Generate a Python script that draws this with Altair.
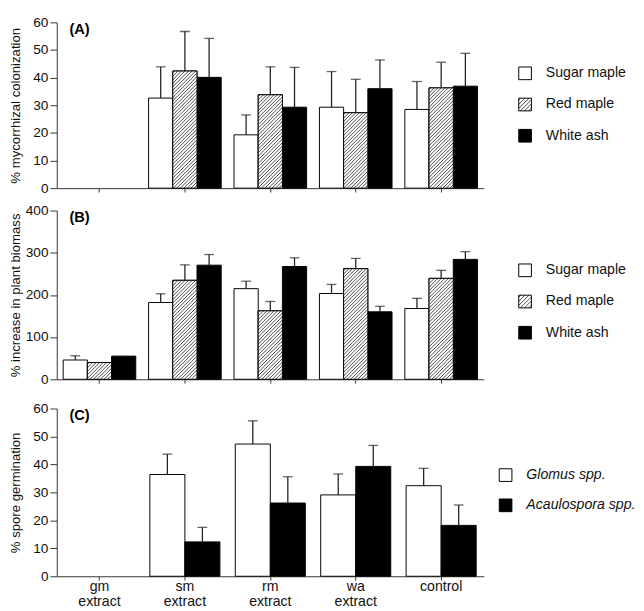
import json
import altair as alt

# ---------------- data ----------------
treatments = ["gm extract", "sm extract", "rm extract", "wa extract", "control"]
trees = ["Sugar maple", "Red maple", "White ash"]
fungi = ["Glomus spp.", "Acaulospora spp."]

# (A) % mycorrhizal colonization: bar means and top of error bars
col_sugar = [None, 32.6, 19.3, 29.3, 28.5]
col_sugar_up = [None, 43.9, 26.5, 42.2, 38.6]
col_red = [None, 42.4, 33.8, 27.3, 36.3]
col_red_up = [None, 56.7, 43.9, 39.4, 45.6]
col_ash = [None, 40.1, 29.3, 36.0, 36.9]
col_ash_up = [None, 54.2, 43.7, 46.4, 48.8]

# (B) % increase in plant biomass
bio_sugar = [45.7, 182.0, 214.9, 203.4, 167.8]
bio_sugar_up = [55.7, 202.7, 232.5, 224.9, 192.0]
bio_red = [39.7, 234.7, 162.3, 262.2, 239.3]
bio_red_up = [None, 271.3, 184.5, 286.6, 258.3]
bio_ash = [54.9, 270.6, 267.4, 160.0, 284.3]
bio_ash_up = [None, 295.8, 288.0, 173.0, 302.6]

# (C) % spore germination
germ_glomus = [None, 36.4, 47.3, 29.1, 32.4]
germ_glomus_up = [None, 43.7, 55.6, 36.6, 38.6]
germ_acaulo = [None, 12.3, 26.2, 39.3, 18.2]
germ_acaulo_up = [None, 17.5, 35.6, 46.8, 25.5]

# ---------------- styling helpers ----------------
FONT = "Liberation Sans, Arial, Helvetica, sans-serif"
W = 438
HATCH_FG = "#4a4a4a"
HATCH_BG = "#ffffff"


def hatch_stops(total, period, half=1.0):
    stops = [{"offset": 0.0, "color": HATCH_BG}]
    k = period / 2.0
    while k < total:
        a = max((k - half) / total, 0.0)
        c = k / total
        b = min((k + half) / total, 1.0)
        stops.append({"offset": round(a, 5), "color": HATCH_BG})
        stops.append({"offset": round(c, 5), "color": HATCH_FG})
        stops.append({"offset": round(b, 5), "color": HATCH_BG})
        k += period
    stops.append({"offset": 1.0, "color": HATCH_BG})
    return stops


def hatch_fill(w, h, period=3.6):
    # 45-degree "////" stripes inside a w x h box (gradient in bounding-box units)
    r = h / w
    m = (1 + r) / (1 + r * r)
    return {"gradient": "linear", "x1": 0, "y1": 0,
            "x2": round(m, 5), "y2": round(m * r, 5),
            "stops": hatch_stops(w + h, period)}


legend_hatch_expr = json.dumps(hatch_fill(13, 13, period=4.2))


def records(series, values, uppers):
    recs = []
    for s, vals, ups in zip(series, values, uppers):
        for t, v, u in zip(treatments, vals, ups):
            if v is None:
                continue
            recs.append({"treatment": t, "series": s, "value": v, "upper": u})
    return recs


def panel(recs, series, colors, ymax, ystep, height, ytitle, letter, pad_inner,
          legend_x, legend_y, row_pad, italic=False, show_labels=False, hatch_series=None):
    bar_w = W / len(treatments) * (1 - pad_inner) / len(series)
    xs = alt.Scale(domain=treatments, paddingInner=pad_inner, paddingOuter=pad_inner / 2)
    xaxis = alt.Axis(title=None, labels=show_labels, ticks=True, tickSize=4, labelAngle=0,
                     labelExpr="split(datum.label, ' ')", labelFontSize=14.5,
                     labelLineHeight=15.5, labelPadding=0, labelColor="#111")
    x = alt.X("treatment:N", scale=xs, axis=xaxis, sort=treatments)
    xo = alt.XOffset("series:N", scale=alt.Scale(domain=series, paddingInner=0, paddingOuter=0),
                     sort=series)
    ys = alt.Scale(domain=[0, ymax], nice=False, zero=True)
    yaxis = alt.Axis(values=list(range(0, ymax + 1, ystep)), title=ytitle, titleX=-35,
                     titleY=height / 2, titleAngle=-90, titleBaseline="bottom", titleAlign="center",
                     tickSize=7, labelPadding=2, labelFontSize=14, titleFontSize=13.5,
                     titleFontWeight="normal", grid=False)
    y = alt.Y("value:Q", scale=ys, axis=yaxis, stack=None)

    rng = []
    for c in colors:
        rng.append(alt.ExprRef(legend_hatch_expr) if c == "hatch" else c)

    legend = alt.Legend(orient="none", legendX=legend_x, legendY=legend_y, title=None,
                        symbolType="square", symbolSize=169, symbolStrokeColor="black",
                        symbolStrokeWidth=1, symbolOpacity=1, labelFontSize=14.5, labelOffset=14,
                        rowPadding=row_pad, padding=0, labelFont=FONT, labelColor="#111",
                        labelFontStyle="italic" if italic else "normal", labelLimit=200)

    bars = alt.Chart(alt.Data(values=recs)).mark_bar(stroke="black", strokeWidth=1).encode(
        x=x, xOffset=xo, y=y,
        color=alt.Color("series:N", scale=alt.Scale(domain=series, range=rng), legend=legend),
    )
    layers = [bars]

    if hatch_series is not None:
        hrecs = []
        for r in recs:
            if r["series"] == hatch_series:
                h = r["value"] * height / ymax
                rr = dict(r)
                rr["grad"] = hatch_fill(bar_w, h)
                hrecs.append(rr)
        hatch = alt.Chart(alt.Data(values=hrecs)).mark_bar(stroke="black", strokeWidth=1).encode(
            x=x, xOffset=xo, y=y,
            fill=alt.Fill(field="grad", type="nominal", scale=None),
        )
        layers.append(hatch)

    erecs = [r for r in recs if r["upper"] is not None]
    edata = alt.Data(values=erecs)
    rules = alt.Chart(edata).mark_rule(color="#222", strokeWidth=1.3).encode(
        x=x, xOffset=xo, y=y, y2="upper:Q")
    caps = alt.Chart(edata).mark_tick(color="#222", thickness=1.3, size=10).encode(
        x=x, xOffset=xo, y=alt.Y("upper:Q", scale=ys, axis=yaxis))
    layers += [rules, caps]

    return alt.layer(*layers).properties(
        width=W, height=height,
        title=alt.TitleParams(letter, anchor="start", frame="group", orient="top", offset=0,
                              dx=13, dy=22, fontSize=15, fontWeight="bold", font=FONT,
                              color="black"),
    )


pa = panel(records(trees, [col_sugar, col_red, col_ash], [col_sugar_up, col_red_up, col_ash_up]),
           trees, ["white", "hatch", "black"], 60, 10, 170, "% mycorrhizal colonization", "(A)",
           0.15, 473, 45, 14, hatch_series="Red maple")
pb = panel(records(trees, [bio_sugar, bio_red, bio_ash], [bio_sugar_up, bio_red_up, bio_ash_up]),
           trees, ["white", "hatch", "black"], 400, 100, 173, "% increase in plant biomass", "(B)",
           0.15, 473, 54, 14, hatch_series="Red maple")
pc = panel(records(fungi, [germ_glomus, germ_acaulo], [germ_glomus_up, germ_acaulo_up]),
           fungi, ["white", "black"], 60, 10, 172, "% spore germination", "(C)",
           0.18, 453, 61, 13, italic=True, show_labels=True)

res = dict(x="independent", xOffset="independent", y="independent", color="independent",
           fill="independent")
top = alt.vconcat(pa, pb, spacing=9).resolve_scale(**res).resolve_legend(color="independent")
chart = (
    alt.vconcat(top, pc, spacing=16)
    .resolve_scale(**res)
    .resolve_legend(color="independent")
    .properties(padding={"left": 0, "top": 0, "right": 0, "bottom": 0})
    .configure(font=FONT)
    .configure_view(stroke=None)
    .configure_axis(domainColor="#333", tickColor="#333", labelColor="#111", titleColor="#111",
                    domainWidth=1, tickWidth=1, labelFont=FONT, titleFont=FONT)
)

chart.save("out.html", embed_options={"renderer": "svg", "actions": False})
